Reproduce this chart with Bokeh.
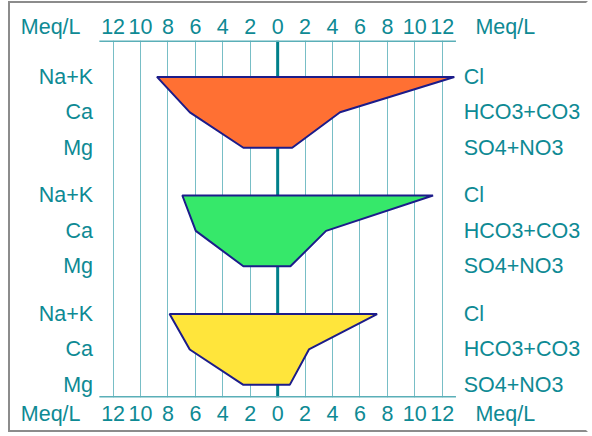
from bokeh.plotting import figure
from bokeh.models import Range1d, LinearAxis, FixedTicker, Grid, Span
from bokeh.embed import file_html
from bokeh.resources import INLINE
from bokeh.core.properties import value

# ---- data ----
cations = ["Na+K", "Ca", "Mg"]
anions = ["Cl", "HCO3+CO3", "SO4+NO3"]
cation_values = [
    [8.8, 6.4, 2.5],
    [6.95, 5.97, 2.5],
    [7.88, 6.41, 2.5],
]
anion_values = [
    [12.88, 4.55, 1.06],
    [11.33, 3.53, 0.93],
    [7.25, 2.28, 0.88],
]
fill_colors = ["#FF7033", "#36E86A", "#FFE53B"]
tick_values = [-12, -10, -8, -6, -4, -2, 0, 2, 4, 6, 8, 10, 12]
tick_labels = ["12", "10", "8", "6", "4", "2", "0", "2", "4", "6", "8", "10", "12"]
unit_label = "Meq/L"
unit_positions = [-16.55, 16.6]

# ---- styling / layout ----
TEAL = "#0E8A94"
GRID = "#78BEC6"
NAVY = "#1C1C8A"
FONT = "Liberation Sans"
FSIZE = "21.5px"
group_gap = 3.35
y_top, y_bot = -1.029, 9.057
axis_extent = 13

p = figure(width=580, height=431,
           x_range=Range1d(-19.48, 22.81), y_range=Range1d(y_bot, y_top),
           x_axis_location=None, y_axis_location=None,
           output_backend="svg", toolbar_location=None,
           min_border_top=37, min_border_bottom=37,
           min_border_left=0, min_border_right=0)
p.outline_line_color = None
p.grid.visible = False
p.background_fill_color = "white"
p.border_fill_color = "white"
p.styles = {"border": "2px solid #8C8C8C", "border-right": "2px solid white",
            "position": "relative", "left": "8px", "top": "1px"}

grid_ticks = [t for t in tick_values if t != 0]
p.add_layout(Grid(dimension=0, ticker=FixedTicker(ticks=grid_ticks),
                  grid_line_color=GRID, grid_line_width=1, level="underlay"))
p.add_layout(Span(location=0, dimension="height", line_color="#00808A",
                  line_width=3, level="underlay"))

overrides = {t: l for t, l in zip(tick_values, tick_labels)}
for u in unit_positions:
    overrides[u] = unit_label

for place in ["above", "below"]:
    ax = LinearAxis(ticker=FixedTicker(ticks=tick_values + unit_positions),
                    major_label_overrides=overrides)
    ax.axis_line_color = None
    ax.major_tick_line_color = None
    ax.minor_tick_line_color = None
    ax.major_tick_out = 0
    ax.major_tick_in = 0
    ax.major_label_standoff = 2 if place == "above" else 4
    ax.major_label_text_font = FONT
    ax.major_label_text_font_size = FSIZE
    ax.major_label_text_color = TEAL
    p.add_layout(ax, place)

# axis lines
p.segment(x0=[-axis_extent, -axis_extent], x1=[axis_extent, axis_extent],
          y0=[y_top, y_bot], y1=[y_top, y_bot],
          line_color="#5AAFB8", line_width=3)

# polygons
label_y, left_text, right_text = [], [], []
for g in range(3):
    rows = [g * group_gap + r for r in range(3)]
    xs = [-v for v in cation_values[g]] + list(reversed(anion_values[g]))
    ys = rows + list(reversed(rows))
    p.patch(xs, ys, fill_color=fill_colors[g], line_color=NAVY, line_width=2)
    label_y += rows
    left_text += cations
    right_text += anions

p.text(x=[-13.46] * len(label_y), y=label_y, text=left_text,
       text_align="right", text_baseline="middle",
       text_font=value(FONT), text_font_size=FSIZE, text_color=TEAL)
p.text(x=[13.56] * len(label_y), y=label_y, text=right_text,
       text_align="left", text_baseline="middle",
       text_font=value(FONT), text_font_size=FSIZE, text_color=TEAL)

open("out.html", "w").write(file_html(p, INLINE))
